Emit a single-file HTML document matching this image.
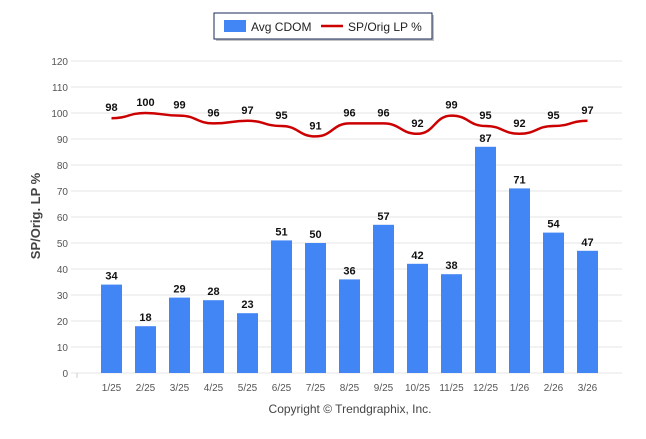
<!DOCTYPE html>
<html><head><meta charset="utf-8"><style>
body{margin:0;background:#fff;width:646px;height:434px;overflow:hidden;font-family:"Liberation Sans",Arial,sans-serif}
</style></head><body>
<svg width="646" height="434" xmlns="http://www.w3.org/2000/svg">
<g id="grid"></g>
<g id="bars"></g>
<g id="line"></g>
<text x="40" y="216" transform="rotate(-90 40 216)" text-anchor="middle" font-size="13" font-weight="bold" fill="#444">SP/Orig. LP %</text>
<g>
<rect x="216" y="15" width="218" height="26" fill="#888" opacity="0.5"/>
<rect x="214" y="13" width="218" height="26" fill="#fff" stroke="#1a2a5a" stroke-width="1"/>
<rect x="224" y="20" width="22" height="12" fill="#4285f4"/>
<text x="251" y="31" font-size="12" fill="#222">Avg CDOM</text>
<line x1="321" y1="26" x2="343" y2="26" stroke="#cc0000" stroke-width="2.5"/>
<text x="348" y="31" font-size="12" fill="#222">SP/Orig LP %</text>
</g>
<text x="350" y="413" text-anchor="middle" font-size="12" fill="#444">Copyright © Trendgraphix, Inc.</text>
</svg>
<script>
const categories=["1/25","2/25","3/25","4/25","5/25","6/25","7/25","8/25","9/25","10/25","11/25","12/25","1/26","2/26","3/26"];
const cdom=[34,18,29,28,23,51,50,36,57,42,38,87,71,54,47];
const sp=[98,100,99,96,97,95,91,96,96,92,99,95,92,95,97];
const yTicks=[0,10,20,30,40,50,60,70,80,90,100,110,120];
const NS="http://www.w3.org/2000/svg";
function y(v){return 373-v*2.6;}
function x(i){return 111.5+i*34;}
function mk(t,a,p){const e=document.createElementNS(NS,t);for(const k in a)e.setAttribute(k,a[k]);p.appendChild(e);return e;}
const g=document.getElementById('grid');
yTicks.forEach(t=>{
 const l=mk('line',{x1:71,x2:622,y1:y(t),y2:y(t),stroke:'#e6e6e6','stroke-width':1},g);
 
 
 const tx=mk('text',{x:68,y:y(t)+4,'text-anchor':'end','font-size':10,fill:'#555'},g);
 tx.textContent=t;
 
 
});
mk('line',{x1:77,x2:77,y1:373,y2:378,stroke:'#ccc'},g);
const b=document.getElementById('bars');
cdom.forEach((v,i)=>{
 const r=mk('rect',{x:x(i)-10.5,y:y(v),width:21,height:373-y(v),fill:'#4285f4'},b);
 
 
 const t=mk('text',{x:x(i),y:y(v)-5,'text-anchor':'middle','font-size':11,'font-weight':'bold',fill:'#111'},b);
 t.textContent=v;
 
 
 const c=mk('text',{x:x(i),y:391,'text-anchor':'middle','font-size':10,fill:'#555'},b);
 c.textContent=categories[i];
 
 
});
const L=document.getElementById('line');
let d='M'+x(0)+','+y(sp[0]);
for(let i=1;i<sp.length;i++){
 const x0=x(i-1),x1=x(i),y0=y(sp[i-1]),y1=y(sp[i]),dx=(x1-x0)/2;
 d+=' C'+(x0+dx)+','+y0+' '+(x1-dx)+','+y1+' '+x1+','+y1;
}
const p=mk('path',{d:d,fill:'none',stroke:'#cc0000','stroke-width':2.5},L);


sp.forEach((v,i)=>{
 const t=mk('text',{x:x(i),y:y(v)-7,'text-anchor':'middle','font-size':11,'font-weight':'bold',fill:'#111'},L);
 t.textContent=v;
 
 
});
</script>
</body></html>
